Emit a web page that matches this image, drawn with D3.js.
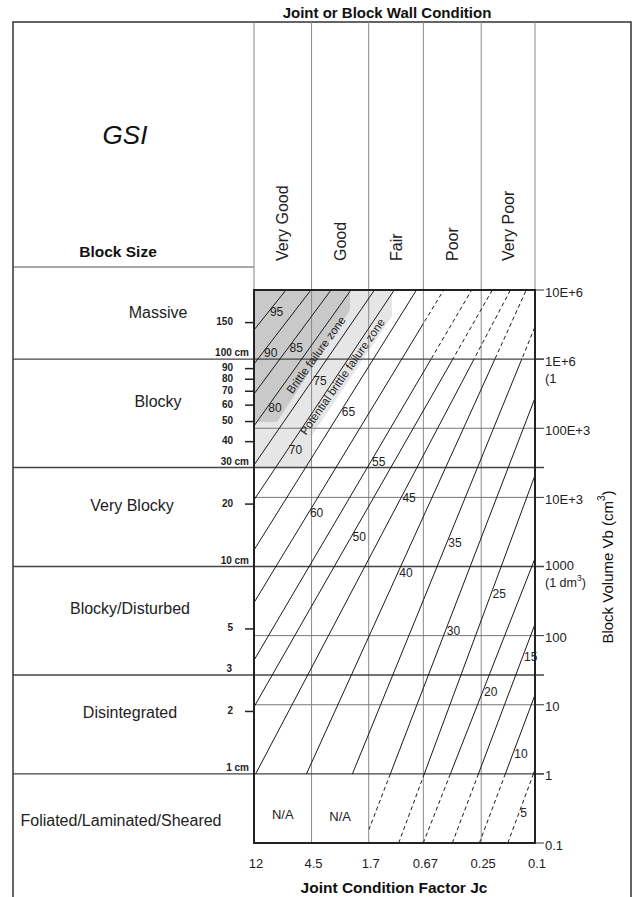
<!DOCTYPE html>
<html><head><meta charset="utf-8">
<script src="https://cdn.jsdelivr.net/npm/d3@7"></script>
<style>body{margin:0;background:#fff;} svg{display:block;font-family:"Liberation Sans",Arial,sans-serif;}</style>
</head><body>
<svg id="c" width="634" height="897"></svg>
<script>
// ---------- data ----------
const conditions = ["Very Good", "Good", "Fair", "Poor", "Very Poor"];
const jcTicks = [12, 4.5, 1.7, 0.67, 0.25, 0.1];
const blockClasses = ["Massive", "Blocky", "Very Blocky", "Blocky/Disturbed", "Disintegrated", "Foliated/Laminated/Sheared"];
const classBoundsVb = [1e7, 1e6, 27000, 1000, 27, 1, 0.1];
const volumeTicks = [1e7, 1e6, 1e5, 1e4, 1000, 100, 10, 1, 0.1];
const volumeTickLabels = ["10E+6", "1E+6", "100E+3", "10E+3", "1000", "100", "10", "1", "0.1"];
const sizeTicksCm = [150, 100, 90, 80, 70, 60, 50, 40, 30, 20, 10, 5, 3, 2, 1];
const sizeTickLabels = ["150", "100 cm", "90", "80", "70", "60", "50", "40", "30 cm", "20", "10 cm", "5", "3", "2", "1 cm"];
const sizeIsBoundary = [0, 1, 0, 0, 0, 0, 0, 0, 1, 0, 1, 0, 1, 0, 1];

const gsiValues   = [5, 10, 15, 20, 25, 30, 35, 40, 45, 50, 55, 60, 65, 70, 75, 80, 85, 90, 95];
const lineStartJc = [0.159, 0.258, 0.409, 0.671, 1.02, 1.85, 3.63, 8.38, 12, 12, 12, 12, 12, 12, 12, 12, 12, 12, 12];
const lineStartVb = [0.1, 0.1, 0.1, 0.1, 0.1, 0.1, 0.1, 0.1, 0.9, 9.3, 44, 300, 1730, 9200, 29400, 108000, 313000, 850000, 2640000];
const lineEndJc   = [0.1, 0.1, 0.1, 0.1, 0.1, 0.1, 0.1, 0.116, 0.152, 0.207, 0.294, 0.474, 0.753, 1.1, 1.54, 2.3, 3.23, 4.55, 6.96];
const lineEndVb   = [1.15, 13.9, 147, 1310, 20900, 274000, 2.94e6, 1e7, 1e7, 1e7, 1e7, 1e7, 1e7, 1e7, 1e7, 1e7, 1e7, 1e7, 1e7];
const labelVb     = [0.27, 1.94, 49, 15.3, 400, 117, 2190, 805, 9800, 2670, 32500, 5940, 172000, 48500, 483000, 196000, 1.45e6, 1.23e6, 4.81e6];

const brittleJc   = [12, 2.34, 2.34, 8.11, 12];
const brittleVb   = [1e7, 1e7, 5.14e6, 123100, 123100];
const potentialJc = [12, 1.143, 1.143, 4.5, 4.5, 12];
const potentialVb = [1e7, 1e7, 4.21e6, 77200, 27000, 27000];

// ---------- layout ----------
const svg = d3.select("#c");
const L = 254, R = 535, T = 290, B = 843;
const FL = 13, FT = 22, FR = 631;
const x = d3.scaleLog().domain([12, 0.1]).range([L, R]);
const y = d3.scaleLog().domain([1e7, 0.1]).range([T, B]);

const defs = svg.append("defs");
defs.append("clipPath").attr("id", "plot").append("rect")
  .attr("x", L).attr("y", T).attr("width", R - L).attr("height", B - T);
const cs = defs.append("clipPath").attr("id", "solid");
cs.append("rect").attr("x", L).attr("y", T).attr("width", x(0.67) - L).attr("height", y(1e6) - T);
cs.append("rect").attr("x", L).attr("y", y(1e6)).attr("width", R - L).attr("height", y(1) - y(1e6));
const cd = defs.append("clipPath").attr("id", "dash");
cd.append("rect").attr("x", x(0.67)).attr("y", T).attr("width", R - x(0.67)).attr("height", y(1e6) - T);
cd.append("rect").attr("x", x(1.7)).attr("y", y(1)).attr("width", R - x(1.7)).attr("height", B - y(1));

// zones
const zone = d3.line().x(d => x(d[0])).y(d => y(d[1]));
svg.append("path").attr("clip-path", "url(#plot)")
  .attr("d", zone(potentialJc.map((j, i) => [j, potentialVb[i]])) + "Z")
  .attr("fill", "#e6e6e6");
svg.append("path").attr("clip-path", "url(#plot)")
  .attr("d", zone(brittleJc.map((j, i) => [j, brittleVb[i]])) + "Z")
  .attr("fill", "#c9c9c9");

// outer frame
svg.append("rect").attr("x", FL).attr("y", FT).attr("width", FR - FL).attr("height", 900)
  .attr("fill", "none").attr("stroke", "#333").attr("stroke-width", 1.5);

// header column lines
jcTicks.forEach(j => {
  svg.append("line").attr("x1", x(j)).attr("x2", x(j)).attr("y1", FT).attr("y2", T)
    .attr("stroke", "#888").attr("stroke-width", 1);
});
// inner column lines in plot
jcTicks.slice(1, -1).forEach(j => {
  svg.append("line").attr("x1", x(j)).attr("x2", x(j)).attr("y1", T).attr("y2", B)
    .attr("stroke", "#8a8a8a").attr("stroke-width", 1);
});
// block size header separator
svg.append("line").attr("x1", FL).attr("x2", L).attr("y1", 267).attr("y2", 267)
  .attr("stroke", "#555").attr("stroke-width", 1);

// volume grid lines (non boundaries) + ticks
volumeTicks.forEach((v, i) => {
  const isB = classBoundsVb.includes(v);
  if (!isB) {
    svg.append("line").attr("x1", L).attr("x2", R).attr("y1", y(v)).attr("y2", y(v))
      .attr("stroke", "#777").attr("stroke-width", 1);
  }
  svg.append("line").attr("x1", R).attr("x2", R + 9).attr("y1", y(v)).attr("y2", y(v))
    .attr("stroke", "#333").attr("stroke-width", 1);
  svg.append("text").attr("x", 545).attr("y", y(v) + (v === 1000 ? -1 : 2)).attr("dominant-baseline", "central")
    .attr("font-size", 13).attr("fill", "#222").text(volumeTickLabels[i]);
});
// class boundaries
classBoundsVb.slice(1, -1).forEach(v => {
  svg.append("line").attr("x1", FL).attr("x2", 544).attr("y1", y(v)).attr("y2", y(v))
    .attr("stroke", "#444").attr("stroke-width", 1.4);
});
// extra volume annotations
const t1 = svg.append("text").attr("x", 545).attr("y", y(1e6) + 19).attr("font-size", 13).attr("fill", "#222").attr("dominant-baseline", "central");
t1.text("(1");
const t2 = svg.append("text").attr("x", 545).attr("y", y(1000) + 16).attr("font-size", 12.5).attr("fill", "#222").attr("dominant-baseline", "central");
t2.append("tspan").text("(1 dm");
t2.append("tspan").attr("font-size", 8.5).attr("dy", -5).text("3");
t2.append("tspan").attr("dy", 5).text(")");

// GSI lines
const gl = gsiValues.map((g, i) => ({
  g, x1: x(lineStartJc[i]), y1: y(lineStartVb[i]), x2: x(lineEndJc[i]), y2: y(lineEndVb[i]), ly: y(labelVb[i])
}));
const sg = svg.append("g").attr("clip-path", "url(#solid)");
const dg = svg.append("g").attr("clip-path", "url(#dash)");
gl.forEach(d => {
  sg.append("line").attr("x1", d.x1).attr("y1", d.y1).attr("x2", d.x2).attr("y2", d.y2)
    .attr("stroke", "#1a1a1a").attr("stroke-width", 1);
  dg.append("line").attr("x1", d.x1).attr("y1", d.y1).attr("x2", d.x2).attr("y2", d.y2)
    .attr("stroke", "#1a1a1a").attr("stroke-width", 1).attr("stroke-dasharray", "4,3");
});
gl.forEach(d => {
  const t = (d.ly - d.y1) / (d.y2 - d.y1);
  const lx = d.x1 + t * (d.x2 - d.x1);
  svg.append("text").attr("x", lx + 1.5).attr("y", d.ly).attr("dominant-baseline", "central")
    .attr("font-size", 12).attr("fill", "#222").text(d.g);
});

// zone labels
svg.append("text").attr("transform", `translate(${x(4.17)},${y(1.15e6)}) rotate(-54)`)
  .attr("text-anchor", "middle").attr("dominant-baseline", "central").attr("font-size", 11.5).attr("fill", "#222")
  .text("Brittle failure zone");
svg.append("text").attr("transform", `translate(${x(2.66)},${y(5.6e5)}) rotate(-55)`)
  .attr("text-anchor", "middle").attr("dominant-baseline", "central").attr("font-size", 11.5).attr("fill", "#222")
  .text("Potential brittle failure zone");

// plot border
svg.append("rect").attr("x", L).attr("y", T).attr("width", R - L).attr("height", B - T)
  .attr("fill", "none").attr("stroke", "#222").attr("stroke-width", 2);

// block size ticks (left)
sizeTicksCm.forEach((s, i) => {
  const yy = y(s * s * s);
  if (sizeIsBoundary[i]) {
    const hasCm = sizeTickLabels[i].includes("cm");
    svg.append("text").attr("x", hasCm ? 249 : 232).attr("y", yy - 3).attr("text-anchor", "end")
      .attr("font-size", 10).attr("font-weight", "bold").attr("fill", "#222").text(sizeTickLabels[i]);
  } else {
    svg.append("line").attr("x1", 245).attr("x2", L).attr("y1", yy).attr("y2", yy)
      .attr("stroke", "#222").attr("stroke-width", 1.5);
    svg.append("text").attr("x", 233).attr("y", yy - 1).attr("text-anchor", "end").attr("dominant-baseline", "central")
      .attr("font-size", 10).attr("font-weight", "bold").attr("fill", "#222").text(sizeTickLabels[i]);
  }
});

// row labels
const rowCx = [158, 158, 132, 130, 130, 121];
blockClasses.forEach((c, i) => {
  const ymid = (y(classBoundsVb[i]) + y(classBoundsVb[i + 1])) / 2;
  svg.append("text").attr("x", rowCx[i]).attr("y", ymid - 12 + (i === 5 ? 24 : 0))
    .attr("text-anchor", "middle").attr("dominant-baseline", "central")
    .attr("font-size", 16).attr("fill", "#222").text(c);
});

// column headers
conditions.forEach((c, i) => {
  const cx = (x(jcTicks[i]) + x(jcTicks[i + 1])) / 2;
  svg.append("text").attr("transform", `translate(${cx},261) rotate(-90)`)
    .attr("dominant-baseline", "central").attr("font-size", 16).attr("fill", "#222").text(c);
});

// N/A
[0, 1].forEach(i => {
  const cx = (x(jcTicks[i]) + x(jcTicks[i + 1])) / 2;
  svg.append("text").attr("x", cx).attr("y", 814 + i * 2).attr("text-anchor", "middle").attr("dominant-baseline", "central")
    .attr("font-size", 13).attr("fill", "#222").text("N/A");
});

// bottom jc labels
jcTicks.forEach(j => {
  svg.append("text").attr("x", x(j) + 2).attr("y", 863).attr("text-anchor", "middle").attr("dominant-baseline", "central")
    .attr("font-size", 13).attr("fill", "#222").text(j);
});

// titles
svg.append("text").attr("x", 387).attr("y", 12).attr("text-anchor", "middle").attr("dominant-baseline", "central")
  .attr("font-size", 15).attr("font-weight", "bold").attr("fill", "#111").text("Joint or Block Wall Condition");
svg.append("text").attr("x", 394).attr("y", 887).attr("text-anchor", "middle").attr("dominant-baseline", "central")
  .attr("font-size", 15.5).attr("font-weight", "bold").attr("fill", "#111").text("Joint Condition Factor Jc");
svg.append("text").attr("x", 125).attr("y", 144).attr("text-anchor", "middle")
  .attr("font-size", 26).attr("font-style", "italic").attr("fill", "#111").text("GSI");
svg.append("text").attr("x", 118).attr("y", 257).attr("text-anchor", "middle")
  .attr("font-size", 15.5).attr("font-weight", "bold").attr("fill", "#111").text("Block Size");
const yt = svg.append("text").attr("transform", `translate(607,567) rotate(-90)`).attr("text-anchor", "middle")
  .attr("dominant-baseline", "central").attr("font-size", 15).attr("fill", "#111");
yt.append("tspan").text("Block Volume Vb (cm");
yt.append("tspan").attr("font-size", 10).attr("dy", -6).text("3");
yt.append("tspan").attr("dy", 6).text(")");
</script>
</body></html>
